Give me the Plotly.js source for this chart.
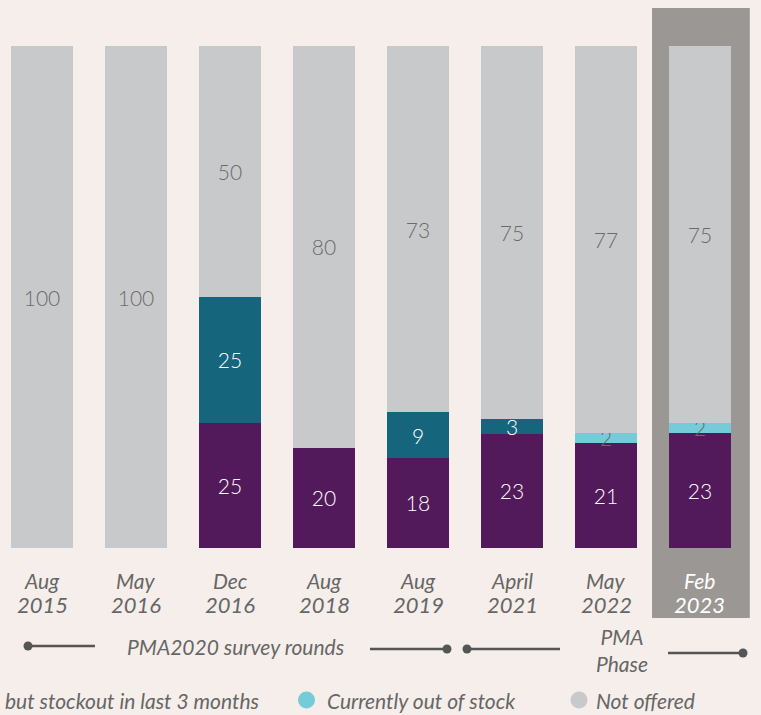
<!DOCTYPE html>
<html>
<head>
<meta charset="utf-8">
<script src="https://cdn.plot.ly/plotly-3.0.1.min.js"></script>
<style>html,body{margin:0;padding:0;background:#f5eeea;}</style>
</head>
<body>
<div id="chart" style="width:761px;height:715px;"></div>
<script>
// ---- data ----
const roundsLine1 = ['Aug', 'May', 'Dec', 'Aug', 'Aug', 'April', 'May', 'Feb'];
const roundsLine2 = ['2015', '2016', '2016', '2018', '2019', '2021', '2022', '2023'];
const inStockNoStockout = [0, 0, 25, 20, 18, 23, 21, 23];
const inStockButStockout = [0, 0, 25, 0, 9, 3, 0, 0];
const currentlyOutOfStock = [0, 0, 0, 0, 0, 0, 2, 2];
const notOffered = [100, 100, 50, 80, 73, 75, 77, 75];
const seriesNames = ['In stock, no stockout in last 3 months', 'but stockout in last 3 months', 'Currently out of stock', 'Not offered'];
const groupLabels = ['PMA2020 survey rounds', 'PMA<br>Phase'];

// ---- styles ----
const colors = ['#521a5a', '#15657d', '#75cbd8', '#c8c9cb'];
const labelColors = ['#ffffff', '#ffffff', '#6b6b6b', '#6b6b6b'];
const BG = '#f5eeea';
const H = 715, W = 761, T = 8, B = 97;
const plotBottom = H - B, plotH = H - T - B;
const py = p => (plotBottom - p) / plotH;   // pixel y -> paper y
const px = p => p / W;                        // pixel x -> paper x

const xs = roundsLine1.map((_, i) => i);
const allSeries = [inStockNoStockout, inStockButStockout, currentlyOutOfStock, notOffered];

const traces = allSeries.map((vals, k) => ({
  type: 'bar',
  x: xs,
  y: vals,
  name: seriesNames[k],
  width: 0.66,
  marker: {color: colors[k], line: {width: 0}},
  text: vals.map(v => v === 0 ? '' : String(v)),
  textposition: 'inside',
  insidetextanchor: 'middle',
  constraintext: 'none',
  textangle: 0,
  textfont: {family: 'Lato', size: 21, color: labelColors[k], weight: 300},
  hoverinfo: 'skip',
  showlegend: false
}));

const txtFont = (size, color) => ({family: 'Lato', size: size, style: 'italic', color: color});
const annotations = [];
roundsLine1.forEach((l1, i) => {
  const c = i === 7 ? '#ffffff' : '#666666';
  annotations.push({
    xref: 'x', yref: 'paper', x: i, y: py(580), text: l1,
    showarrow: false, xanchor: 'center', yanchor: 'middle', font: txtFont(21, c)
  });
  annotations.push({
    xref: 'x', yref: 'paper', x: i, y: py(604), text: roundsLine2[i],
    showarrow: false, xanchor: 'center', yanchor: 'middle', font: txtFont(22, c)
  });
});
annotations.push({
  xref: 'paper', yref: 'paper', x: px(235), y: py(646), text: groupLabels[0],
  showarrow: false, xanchor: 'center', yanchor: 'middle', font: txtFont(21, '#666666')
});
annotations.push({
  xref: 'paper', yref: 'paper', x: px(622), y: py(650), text: groupLabels[1],
  showarrow: false, xanchor: 'center', yanchor: 'middle', font: txtFont(21, '#666666')
});
// legend (manual)
annotations.push({
  xref: 'paper', yref: 'paper', x: px(3), y: py(700), text: seriesNames[1],
  showarrow: false, xanchor: 'left', yanchor: 'middle', font: txtFont(21, '#666666')
});
annotations.push({
  xref: 'paper', yref: 'paper', x: px(325), y: py(700), text: seriesNames[2],
  showarrow: false, xanchor: 'left', yanchor: 'middle', font: txtFont(21, '#666666')
});
annotations.push({
  xref: 'paper', yref: 'paper', x: px(594), y: py(700), text: seriesNames[3],
  showarrow: false, xanchor: 'left', yanchor: 'middle', font: txtFont(21, '#666666')
});

const lineCol = '#555555';
function hline(x0, x1, y) {
  return {type: 'line', xref: 'paper', yref: 'paper', x0: px(x0), x1: px(x1), y0: py(y), y1: py(y),
          line: {color: lineCol, width: 2.5}};
}
function dot(x, y, r, col) {
  return {type: 'circle', xref: 'paper', yref: 'paper', xsizemode: 'pixel', ysizemode: 'pixel',
          xanchor: px(x), yanchor: py(y), x0: -r, x1: r, y0: -r, y1: r,
          fillcolor: col, line: {width: 0}};
}

const shapes = [
  {type: 'rect', xref: 'x', yref: 'paper', x0: 6.49, x1: 7.53, y0: 0, y1: 1,
   fillcolor: '#9b9794', line: {width: 0}, layer: 'below'},
  hline(28, 95, 646), dot(28, 646, 4.5, lineCol),
  hline(370, 447, 649), dot(447, 649, 4.5, lineCol),
  hline(467, 560, 649), dot(467, 649, 4.5, lineCol),
  hline(668, 743, 653), dot(743, 653, 4.5, lineCol),
  dot(306.5, 700, 8.5, colors[2]),
  dot(579, 700, 8.5, colors[3])
];

const layout = {
  width: W, height: H,
  margin: {l: 0, r: 0, t: T, b: B, pad: 0},
  paper_bgcolor: BG, plot_bgcolor: 'rgba(0,0,0,0)',
  barmode: 'stack',
  barnorm: 'percent',
  showlegend: false,
  xaxis: {range: [-0.4468, 7.649], showticklabels: false, showgrid: false, zeroline: false, ticks: '', fixedrange: true},
  yaxis: {range: [-13.94, 107.57], showticklabels: false, showgrid: false, zeroline: false, ticks: '', fixedrange: true},
  shapes: shapes,
  annotations: annotations,
  font: {family: 'Lato'}
};

Plotly.newPlot('chart', traces, layout, {displayModeBar: false, staticPlot: true});
</script>
</body>
</html>
